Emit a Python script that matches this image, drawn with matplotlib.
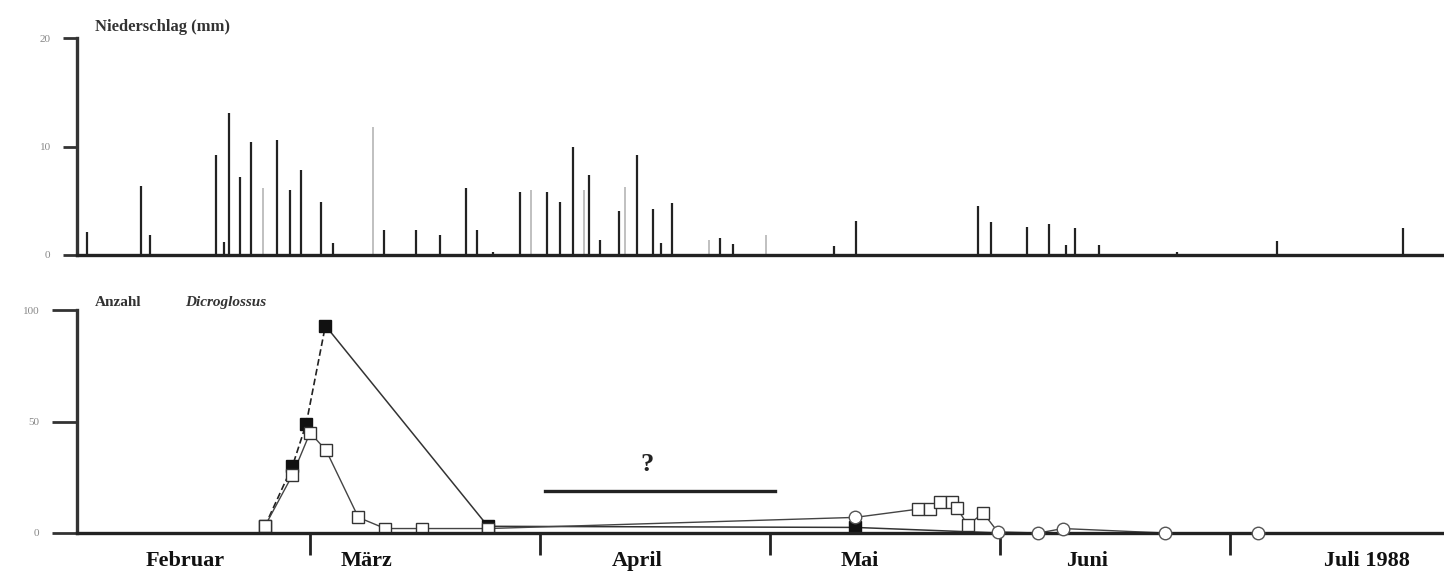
import matplotlib
matplotlib.use("Agg")
import matplotlib.pyplot as plt
import matplotlib.transforms as mtransforms

plt.rcParams['font.family'] = ['Liberation Serif', 'DejaVu Serif']

# Tage ab 1. Februar 1988 (Monate im Bild gleich lang gezeichnet, 30 Tage)
regen_tag = [0.9, 8.0, 9.1, 17.7, 18.8, 19.4, 20.9, 22.3, 25.7, 27.4, 28.8, 31.4, 33.0,
             39.7, 43.8, 47.0, 50.3, 51.8, 53.9, 57.4, 60.9, 62.6, 64.3, 66.4, 67.8,
             70.3, 72.7, 74.7, 75.8, 77.2, 83.5, 85.2, 98.3, 101.2, 117.1, 118.8, 123.5,
             126.4, 128.6, 129.8, 132.9, 143.1, 156.1, 172.6]
regen_mm = [2.1, 6.4, 1.8, 9.2, 1.2, 13.1, 7.2, 10.4, 10.6, 6.0, 7.8, 4.9, 1.1,
            2.3, 2.3, 1.8, 6.2, 2.3, 0.3, 5.8, 5.8, 4.9, 10.0, 7.4, 1.4,
            4.1, 9.2, 4.2, 1.1, 4.8, 1.6, 1.0, 0.8, 3.1, 4.5, 3.0, 2.6,
            2.9, 0.9, 2.5, 0.9, 0.3, 1.3, 2.5]
# schwach gedruckte Balken
regen_tag_blass = [23.9, 38.2, 58.8, 65.7, 71.1, 82.0, 89.5]
regen_mm_blass = [6.2, 11.8, 6.0, 6.0, 6.3, 1.4, 1.8]

# Dicroglossus, gefuellte Quadrate
voll_tag = [24.1, 27.7, 29.5, 32.0, 53.2, 101.1, 120.0, 153.7]
voll_anzahl = [3, 30, 49, 93, 3, 2.5, 0, 0]

# offene Quadrate
offen_tag = [24.1, 27.7, 30.0, 32.1, 36.3, 39.8, 44.6, 53.2,
             109.3, 110.9, 112.2, 113.7, 114.4, 115.8, 117.8]
offen_anzahl = [3, 26, 45, 37, 7, 2, 2, 2,
                10.7, 10.7, 14, 14, 11, 3.5, 9]
# offene Kreise
kreis_tag = [101.1, 119.7, 125.0, 128.2, 141.5, 153.7]
kreis_anzahl = [7, 0.5, 0, 2, 0, 0]

monat_grenzen = [30, 60, 90, 120, 150]
monate = ['Februar', 'März', 'April', 'Mai', 'Juni', 'Juli 1988']
monat_text_x = [13.7, 37.4, 72.7, 101.7, 131.3, 167.9]

x_min, x_max = -0.4, 177.9

fig = plt.figure(figsize=(14.44, 5.73), dpi=100)
ax1 = fig.add_axes([77 / 1444, 1 - 255 / 573, 1 - 77 / 1444, 217 / 573])
ax2 = fig.add_axes([77 / 1444, 1 - 533 / 573, 1 - 77 / 1444, 223 / 573])

for ax in (ax1, ax2):
    ax.set_xlim(x_min, x_max)
    ax.spines['top'].set_visible(False)
    ax.spines['right'].set_visible(False)
    ax.spines['left'].set_linewidth(2.4)
    ax.spines['bottom'].set_linewidth(2.4)
    ax.spines['left'].set_color('#333333')
    ax.spines['bottom'].set_color('#222222')

# Niederschlag
ax1.vlines(regen_tag_blass, 0, regen_mm_blass, color='#bbbbbb', linewidth=1.3)
ax1.vlines(regen_tag, 0, regen_mm, color='#222222', linewidth=1.6)
ax1.set_ylim(0, 20)
ax1.set_yticks([0, 10, 20])
ax1.set_yticklabels(['0', '10', '20'])
ax1.set_xticks([])
ax1.tick_params(axis='y', length=10, width=2, labelsize=8, labelcolor='#888888', pad=9,
                color='#333333')
ax1.text(95 / 1444, 1 - 27 / 573, 'Niederschlag (mm)', transform=fig.transFigure,
         fontsize=12, fontweight='bold', color='#333333', va='center', ha='left')

# Anzahl: Linien
ax2.plot(voll_tag[:4], voll_anzahl[:4], color='#222222', linewidth=1.2, linestyle=(0, (4, 2)))
ax2.plot(voll_tag[3:], voll_anzahl[3:], color='#333333', linewidth=1.1)
offen_linie = sorted(zip(offen_tag + kreis_tag, offen_anzahl + kreis_anzahl))
ax2.plot([p[0] for p in offen_linie], [p[1] for p in offen_linie],
         color='#444444', linewidth=1.0)

# Anzahl: Symbole
ax2.plot(voll_tag[:6], voll_anzahl[:6], linestyle='none', marker='s', markersize=8,
         markerfacecolor='#111111', markeredgecolor='#111111')
ax2.plot(offen_tag, offen_anzahl, linestyle='none', marker='s', markersize=8,
         markerfacecolor='white', markeredgecolor='#333333', markeredgewidth=1.0)
ax2.plot(kreis_tag, kreis_anzahl, linestyle='none', marker='o', markersize=9,
         markerfacecolor='white', markeredgecolor='#555555', markeredgewidth=1.0,
         clip_on=False, zorder=5)

ax2.set_ylim(0, 100)
ax2.set_yticks([0, 50, 100])
ax2.set_yticklabels(['0', '50', '100'])
ax2.set_xticks(monat_grenzen)
ax2.set_xticklabels([])
ax2.tick_params(axis='y', length=18, width=2, labelsize=8, labelcolor='#888888', pad=9,
                color='#333333')
ax2.tick_params(axis='x', length=16, width=2, direction='out', color='#222222')

trans = mtransforms.blended_transform_factory(ax2.transData, ax2.transAxes)
for name, xm in zip(monate, monat_text_x):
    ax2.text(xm, -0.125, name, transform=trans, ha='center', va='center',
             fontsize=16, fontweight='bold', color='#111111')

ax2.text(95 / 1444, 1 - 303 / 573, 'Anzahl', transform=fig.transFigure,
         fontsize=11, fontweight='bold', color='#333333', va='center', ha='left')
ax2.text(185 / 1444, 1 - 303 / 573, 'Dicroglossus', transform=fig.transFigure,
         fontsize=11, fontweight='bold', fontstyle='italic', color='#333333',
         va='center', ha='left')

# Fragezeichen ueber April
ax2.plot([60.7, 90.7], [18.8, 18.8], color='#222222', linewidth=2.4)
ax2.text(74.0, 30.5, '?', ha='center', va='center', fontsize=19, fontweight='bold',
         color='#222222')

fig.savefig('out.png', dpi=100)
